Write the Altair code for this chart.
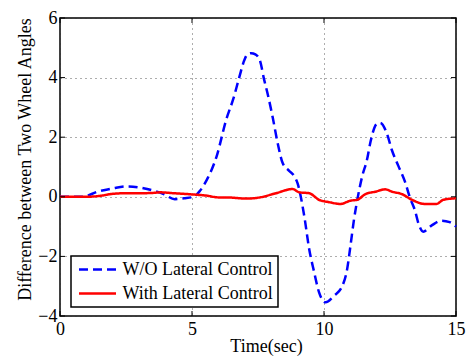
import altair as alt
import pandas as pd

# ---- data ----
blue_t = [0, 0.85, 1.42, 2.0, 2.55, 3.3, 3.93, 4.35, 4.7, 5.06, 5.3, 5.55, 5.93, 6.3, 6.57,
          6.8, 6.98, 7.1, 7.24, 7.4, 7.57, 7.73, 7.88, 8.06, 8.25, 8.43, 8.68, 8.87, 9.0,
          9.26, 9.44, 9.62, 9.81, 10.06, 10.38, 10.69, 10.88, 11.0, 11.13, 11.32, 11.45,
          11.63, 11.76, 12.0, 12.13, 12.39, 12.57, 12.82, 13.07, 13.26, 13.45, 13.58,
          13.76, 14.08, 14.45, 14.76, 15.0]
blue_v = [0, 0, 0.17, 0.28, 0.35, 0.26, 0.09, -0.08, -0.05, 0.0, 0.2, 0.55, 1.35, 2.6, 3.3,
          4.04, 4.58, 4.78, 4.82, 4.78, 4.58, 3.94, 3.4, 2.65, 1.78, 1.14, 0.87, 0.7, 0.45,
          -0.69, -1.76, -2.5, -3.2, -3.54, -3.32, -3.0, -2.41, -1.66, -0.8, 0.17, 0.7,
          1.25, 1.84, 2.45, 2.48, 2.1, 1.57, 1.03, 0.5, -0.04, -0.47, -0.9,
          -1.17, -0.96, -0.8, -0.85, -1.0]
red_t = [0, 1.0, 1.5, 2.0, 2.5, 3.0, 3.5, 3.8, 4.3, 5.0, 5.55, 6.0, 6.3, 7.06, 7.57, 8.18,
         8.81, 9.06, 9.44, 9.81, 10.19, 10.63, 11.0, 11.26, 11.57, 11.94, 12.32, 12.58,
         12.95, 13.33, 13.82, 14.26, 14.52, 15.0]
red_v = [0, 0, 0.03, 0.1, 0.12, 0.12, 0.13, 0.15, 0.12, 0.08, 0.04, -0.02, -0.02, -0.06,
         -0.02, 0.12, 0.26, 0.15, 0.12, -0.1, -0.18, -0.24, -0.13, -0.1, 0.09, 0.17, 0.25,
         0.17, 0.09, -0.1, -0.24, -0.24, -0.1, -0.05]
series_names = ["W/O Lateral Control", "With Lateral Control"]
x_ticks = [0, 5, 10, 15]
y_ticks = [-4, -2, 0, 2, 4, 6]

df = pd.concat([
    pd.DataFrame({"time": blue_t, "value": blue_v, "series": series_names[0]}),
    pd.DataFrame({"time": red_t, "value": red_v, "series": series_names[1]}),
])

W, H = 396, 298
FONT = "Liberation Serif"
xs = alt.Scale(domain=[0, 15], nice=False, zero=False)
ys = alt.Scale(domain=[-4, 6], nice=False, zero=False)

x_axis = alt.Axis(values=x_ticks, title="Time(sec)", labelPadding=4, labelFlush=False,
                  titleX=206, titleY=30, titleBaseline="middle")
y_axis = alt.Axis(values=y_ticks, title="Difference between Two Wheel Angles",
                  labelPadding=3, titleX=-35, titleY=141, titleBaseline="middle")

leg = alt.Legend(title=None, orient="none", legendX=11, legendY=238)

lines = alt.Chart(df).mark_line(strokeWidth=2.5, interpolate="monotone").encode(
    x=alt.X("time:Q", scale=xs, axis=x_axis),
    y=alt.Y("value:Q", scale=ys, axis=y_axis),
    color=alt.Color("series:N", scale=alt.Scale(domain=series_names,
                                                range=["#0000ff", "#ff0000"]), legend=leg),
    strokeDash=alt.StrokeDash("series:N", scale=alt.Scale(domain=series_names,
                                                          range=[[9, 5], [1, 0]]), legend=leg),
)

ytick_df = pd.DataFrame({"value": y_ticks})
xtick_df = pd.DataFrame({"time": x_ticks})
tick_style = dict(color="black", strokeWidth=1)

yl = alt.Chart(ytick_df).mark_rule(**tick_style).encode(
    y=alt.Y("value:Q", scale=ys, axis=y_axis), x=alt.value(0), x2=alt.value(5))
yr = alt.Chart(ytick_df).mark_rule(**tick_style).encode(
    y=alt.Y("value:Q", scale=ys, axis=y_axis), x=alt.value(W - 5), x2=alt.value(W))
xb = alt.Chart(xtick_df).mark_rule(**tick_style).encode(
    x=alt.X("time:Q", scale=xs, axis=x_axis), y=alt.value(H - 5), y2=alt.value(H))
xt = alt.Chart(xtick_df).mark_rule(**tick_style).encode(
    x=alt.X("time:Q", scale=xs, axis=x_axis), y=alt.value(0), y2=alt.value(5))

chart = alt.layer(lines, yl, yr, xb, xt).properties(
    width=W, height=H,
    autosize=alt.AutoSizeParams(type="none"),
    padding={"left": 52, "top": 10, "right": 10, "bottom": 40},
    background="white",
).configure_view(
    stroke="black", strokeWidth=1.5
).configure_axis(
    labelFont=FONT, labelFontSize=18, labelColor="black", labelFontWeight="normal",
    titleFont=FONT, titleFontSize=18, titleFontWeight="normal", titleColor="black",
    domain=False, ticks=False, grid=True, gridColor="#333333", gridDash=[1, 4],
    gridOpacity=0.8, gridWidth=1,
).configure_legend(
    labelFont=FONT, labelFontSize=18, labelColor="black", labelLimit=400,
    symbolType="stroke", symbolSize=1369, symbolStrokeWidth=2.5,
    clipHeight=18, rowPadding=6, padding=4.5, symbolOffset=2, labelOffset=5,
    strokeColor="black", strokeWidth=1.5, fillColor="white",
)

chart.save("out.html", embed_options={"renderer": "svg", "actions": False})
